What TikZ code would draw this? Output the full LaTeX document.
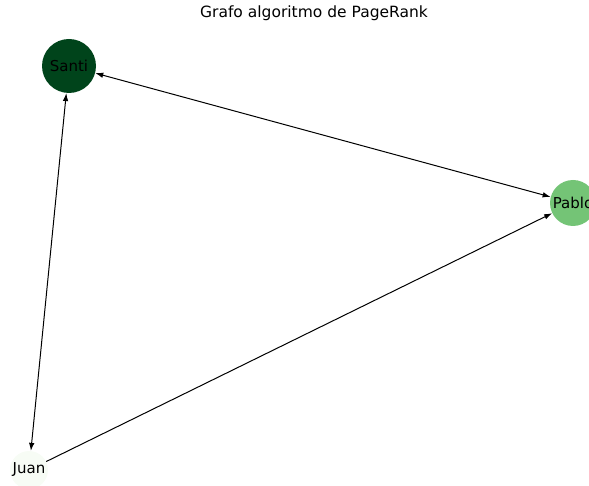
\documentclass[tikz,border=0pt]{standalone}
\usepackage{fontspec}
\setmainfont{DejaVu Sans}
\usetikzlibrary{arrows.meta}
\definecolor{cSanti}{HTML}{00441B}
\definecolor{cPablo}{HTML}{74C476}
\definecolor{cJuan}{HTML}{F7FCF5}
\begin{document}
\begin{tikzpicture}[x=1pt,y=1pt,
  vert/.style={circle,inner sep=0pt,font=\fontsize{15}{17}\selectfont,text=black},
  edge/.style={line width=1pt,{Latex[length=8pt,width=5.5pt]}-{Latex[length=8pt,width=5.5pt]}},
  oneway/.style={line width=1pt,-{Latex[length=8pt,width=5.5pt]}}]
\useasboundingbox (0,0) rectangle (589,485);
\node[font=\fontsize{15.5}{18}\selectfont] (title) at (314,472) {Grafo algoritmo de PageRank};
\node[vert,fill=cSanti,minimum size=54pt] (santi) at (69,419) {Santi};
\node[vert,fill=cPablo,minimum size=46pt] (pablo) at (573,282) {Pablo};
\node[vert,fill=cJuan,minimum size=38pt] (juan) at (29,15) {Juan};
\draw[edge] (santi) -- (pablo);
\draw[edge] (santi) -- (juan);
\draw[oneway] (juan) -- (pablo);
\end{tikzpicture}
\end{document}
